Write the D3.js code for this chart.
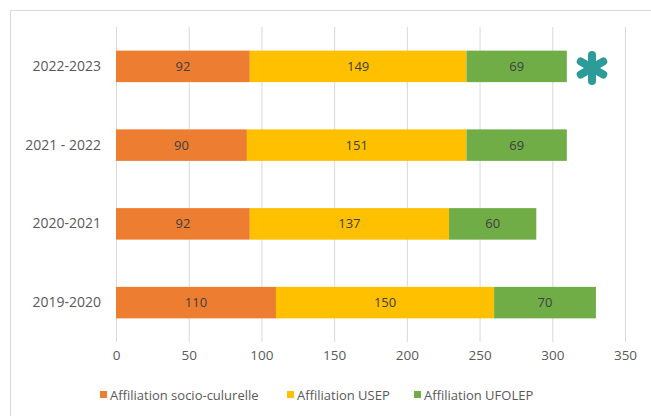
<!DOCTYPE html>
<html><head><meta charset="utf-8">
<script src="https://cdn.jsdelivr.net/npm/d3@7"></script>
<style>body{margin:0;background:#fff;} text{font-family:"Open Sans","Liberation Sans",sans-serif;}</style>
</head><body>
<svg id="c" width="651" height="416"></svg>
<script>
const categories = ["2022-2023", "2021 - 2022", "2020-2021", "2019-2020"];
const seriesNames = ["Affiliation socio-culurelle", "Affiliation USEP", "Affiliation UFOLEP"];
const socio = [92, 90, 92, 110];
const usep = [149, 151, 137, 150];
const ufolep = [69, 69, 60, 70];
const xTicks = [0, 50, 100, 150, 200, 250, 300, 350];
const colors = ["#ED7D31", "#FFC000", "#70AD47"];

const svg = d3.select("#c");
svg.append("rect").attr("x", 10.5).attr("y", 10.5).attr("width", 700).attr("height", 500)
  .attr("fill", "#fff").attr("stroke", "#d9d9d9");

const x = d3.scaleLinear().domain([0, 350]).range([116, 625]);
const y = d3.scaleBand().domain(categories).range([27, 342]).paddingInner(0.6).paddingOuter(0.3);

const g = svg.append("g");
g.selectAll("line.grid").data(xTicks).join("line")
  .attr("x1", d => x(d) + 0.5).attr("x2", d => x(d) + 0.5)
  .attr("y1", 27).attr("y2", 342).attr("stroke", "#d9d9d9").attr("stroke-width", 1);

const table = categories.map((c, i) => ({cat: c, vals: [socio[i], usep[i], ufolep[i]]}));
const stackData = d3.stack().keys([0, 1, 2]).value((d, k) => d.vals[k])(table);

stackData.forEach((layer, k) => {
  g.selectAll("rect.s" + k).data(layer).join("rect")
    .attr("x", d => x(d[0])).attr("width", d => x(d[1]) - x(d[0]))
    .attr("y", d => y(d.data.cat)).attr("height", y.bandwidth())
    .attr("fill", colors[k]);
  g.selectAll("text.s" + k).data(layer).join("text")
    .attr("x", d => (x(d[0]) + x(d[1])) / 2).attr("y", d => y(d.data.cat) + y.bandwidth() / 2)
    .attr("dy", "0.35em").attr("text-anchor", "middle")
    .attr("font-size", 13).attr("fill", "#404040")
    .text(d => d[1] - d[0]);
});

const xAxis = d3.axisBottom(x).tickValues(xTicks).tickSize(0).tickPadding(8);
const xa = svg.append("g").attr("transform", "translate(0,342)").call(xAxis);
xa.select(".domain").remove();
xa.selectAll("text").attr("font-size", 13.5).attr("fill", "#595959").attr("font-family", "Open Sans, Liberation Sans, sans-serif");

const yAxis = d3.axisLeft(y).tickSize(0).tickPadding(15);
const ya = svg.append("g").attr("transform", "translate(116,0)").call(yAxis);
ya.select(".domain").remove();
ya.selectAll("text").attr("font-size", 14).attr("fill", "#595959").attr("font-family", "Open Sans, Liberation Sans, sans-serif");

const legX = [100, 287, 414];
const leg = svg.append("g");
seriesNames.forEach((n, i) => {
  leg.append("rect").attr("x", legX[i]).attr("y", 391).attr("width", 7).attr("height", 7).attr("fill", colors[i]);
  leg.append("text").attr("x", legX[i] + 10).attr("y", 395).attr("dy", "0.35em")
    .attr("font-size", 13).attr("fill", "#595959").text(n);
});

const cx = 592, cy = 68, r = 13;
const star = svg.append("g").attr("stroke", "#2E9B9B").attr("stroke-width", 8).attr("stroke-linecap", "round");
[90, 30, 150].forEach(a => {
  const rad = a * Math.PI / 180;
  star.append("line")
    .attr("x1", cx - r * Math.cos(rad)).attr("y1", cy - r * Math.sin(rad))
    .attr("x2", cx + r * Math.cos(rad)).attr("y2", cy + r * Math.sin(rad));
});
</script>
</body></html>
